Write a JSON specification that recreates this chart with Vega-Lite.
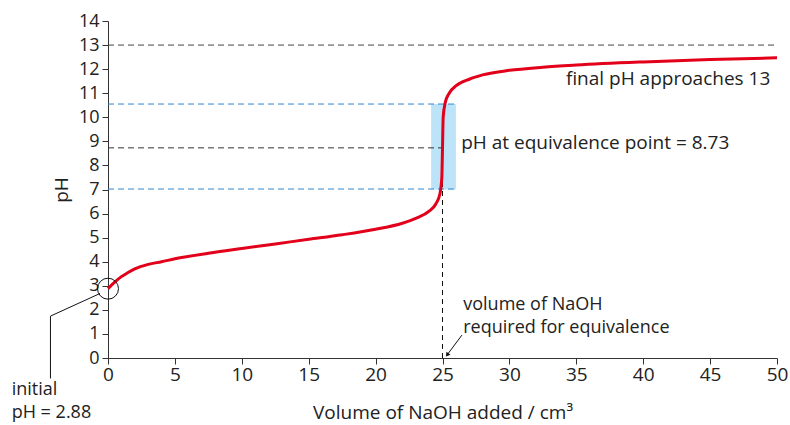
{
  "$schema": "https://vega.github.io/schema/vega-lite/v6.json",
  "width": 669,
  "height": 337,
  "autosize": {"type": "none"},
  "padding": {"left": 108, "top": 21, "right": 13, "bottom": 67},
  "background": "white",
  "config": {
    "view": {"stroke": null},
    "font": "Open Sans",
    "axis": {
      "grid": false,
      "domainColor": "#333",
      "tickColor": "#333",
      "labelColor": "#222",
      "titleColor": "#222",
      "labelFontSize": 19,
      "titleFontSize": 19,
      "titleFontWeight": "normal",
      "labelFont": "Open Sans",
      "titleFont": "Open Sans",
      "tickSize": 6
    }
  },
  "encoding": {
    "x": {"field": "x", "type": "quantitative", "scale": {"domain": [0, 50], "nice": false},
      "axis": {"values": [0,5,10,15,20,25,30,35,40,45,50], "title": "Volume of NaOH added / cm³", "labelPadding": 1, "titlePadding": 19, "labelOverlap": false, "labelFlush": false, "labelBound": false}},
    "y": {"field": "y", "type": "quantitative", "scale": {"domain": [0, 14], "nice": false},
      "axis": {"values": [0,1,2,3,4,5,6,7,8,9,10,11,12,13,14], "title": "pH", "labelFontSize": 18, "labelPadding": 3, "titlePadding": 7, "labelOverlap": false, "labelFlush": false, "labelBound": false}}
  },
  "layer": [
    {
      "data": {"values": [{"x": 24.15, "xe": 26.0, "y": 7, "ye": 10.55}]},
      "mark": {"type": "rect", "color": "#bde3f8"},
      "encoding": {
        "x2": {"field": "xe"},
        "y2": {"field": "ye"}
      }
    },
    {
      "data": {"values": [
        {"x": 0, "xe": 50, "y": 13, "c": "grey"},
        {"x": 0, "xe": 26, "y": 10.55, "c": "blue"},
        {"x": 0, "xe": 26, "y": 7.02, "c": "blue"},
        {"x": 0, "xe": 25, "y": 8.73, "c": "black"}
      ]},
      "mark": {"type": "rule", "strokeDash": [6, 4], "strokeWidth": 1},
      "encoding": {
        "x2": {"field": "xe"},
        "color": {"field": "c", "type": "nominal", "scale": {"domain": ["grey", "blue", "black"], "range": ["#444", "#2f86d0", "#333"]}, "legend": null}
      }
    },
    {
      "data": {"values": [{"x": 25, "y": 0, "ye": 8.73}]},
      "mark": {"type": "rule", "strokeDash": [5, 4], "strokeWidth": 1, "color": "#111"},
      "encoding": {
        "y2": {"field": "ye"}
      }
    },
    {
      "data": {"values": [
        {"x": 0, "y": 2.88}, {"x": 0.5, "y": 3.15}, {"x": 1, "y": 3.38}, {"x": 1.5, "y": 3.55},
        {"x": 2, "y": 3.7}, {"x": 3, "y": 3.89}, {"x": 4, "y": 4.0}, {"x": 5, "y": 4.12},
        {"x": 7.5, "y": 4.35}, {"x": 10, "y": 4.55}, {"x": 12.5, "y": 4.74}, {"x": 15, "y": 4.93},
        {"x": 17.5, "y": 5.12}, {"x": 20, "y": 5.35}, {"x": 22, "y": 5.6}, {"x": 23, "y": 5.8},
        {"x": 24, "y": 6.1}, {"x": 24.5, "y": 6.4}, {"x": 24.8, "y": 6.8}, {"x": 24.95, "y": 7.5},
        {"x": 25, "y": 8.73}, {"x": 25.05, "y": 10.0}, {"x": 25.2, "y": 10.6}, {"x": 25.5, "y": 11.0},
        {"x": 26, "y": 11.3}, {"x": 27, "y": 11.58}, {"x": 28, "y": 11.76}, {"x": 30, "y": 11.95},
        {"x": 32.5, "y": 12.08}, {"x": 35, "y": 12.17}, {"x": 40, "y": 12.3}, {"x": 45, "y": 12.4},
        {"x": 50, "y": 12.47}
      ]},
      "mark": {"type": "line", "color": "#e2001a", "strokeWidth": 3, "interpolate": "monotone"}
    },
    {
      "data": {"values": [{"x": 0, "y": 2.88}]},
      "mark": {"type": "point", "shape": "circle", "size": 440, "stroke": "#111", "strokeWidth": 1, "filled": false, "opacity": 1}
    },
    {
      "data": {"values": [
        {"x": -0.6, "y": 2.68, "o": 1},
        {"x": -4.3, "y": 1.74, "o": 2},
        {"x": -4.3, "y": -0.85, "o": 3}
      ]},
      "mark": {"type": "line", "color": "#111", "strokeWidth": 1},
      "encoding": {
        "order": {"field": "o", "type": "quantitative"}
      }
    },
    {
      "data": {"values": [{"x": 26.45, "y": 0.95, "xe": 25.4, "ye": 0.17}]},
      "mark": {"type": "rule", "color": "#111", "strokeWidth": 1},
      "encoding": {
        "x2": {"field": "xe"},
        "y2": {"field": "ye"}
      }
    },
    {
      "data": {"values": [{"x": 25.35, "y": 0.13}]},
      "mark": {"type": "point", "shape": "triangle-up", "size": 25, "filled": true, "color": "#111", "angle": 217, "opacity": 1}
    },
    {
      "data": {"values": [
        {"x": 26.4, "y": 8.95, "t": "pH at equivalence point = 8.73"}
      ]},
      "mark": {"type": "text", "align": "left", "baseline": "middle", "fontSize": 19, "color": "#222", "font": "Open Sans"},
      "encoding": {
        "text": {"field": "t"}
      }
    },
    {
      "data": {"values": [
        {"x": 26.55, "y": 2.22, "t": "volume of NaOH"},
        {"x": 26.55, "y": 1.24, "t": "required for equivalence"},
        {"x": -7.2, "y": -1.32, "t": "initial"},
        {"x": -7.2, "y": -2.27, "t": "pH = 2.88"}
      ]},
      "mark": {"type": "text", "align": "left", "baseline": "middle", "fontSize": 18, "color": "#222", "font": "Open Sans"},
      "encoding": {
        "text": {"field": "t"}
      }
    },
    {
      "data": {"values": [{"x": 49.5, "y": 11.57, "t": "final pH approaches 13"}]},
      "mark": {"type": "text", "align": "right", "baseline": "middle", "fontSize": 19, "color": "#222", "font": "Open Sans"},
      "encoding": {
        "text": {"field": "t"}
      }
    }
  ]
}
